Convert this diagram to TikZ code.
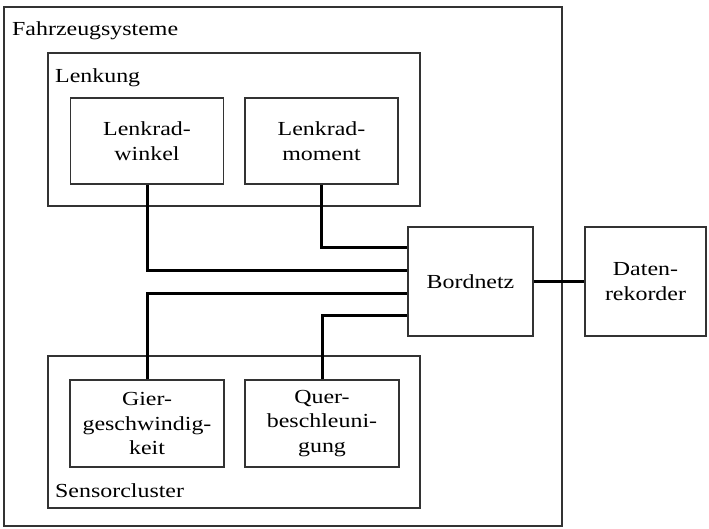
\documentclass[tikz,border=0pt]{standalone}
\usepackage{fontspec}
\setmainfont{Liberation Serif}[FakeStretch=1.2]
\usepackage{tikz}
\usetikzlibrary{calc}
\definecolor{framec}{HTML}{333333}
\newcommand{\sysbox}[5]{%
  \node[draw=framec, line width=1.4bp, minimum width=#3bp, minimum height=#4bp,
        inner sep=0pt, align=center] (#1) at #2 {#5};
}

\begin{document}
\begin{tikzpicture}[x=1bp, y=-1bp, font=\fontsize{20}{25}\selectfont,
          bus/.style={black, line width=3bp},
          lbl/.style={anchor=base west, inner sep=0pt}]
        \useasboundingbox (0,0) rectangle (709,529);
        % groups
        \sysbox{fzg}{(283,266.5)}{558}{519}{}
        \sysbox{lenk}{(234,129.5)}{372}{153}{}
        \sysbox{sc}{(234,432)}{372}{152}{}
        \node[lbl] (fzgl) at (12,35.5) {Fahrzeugsysteme};
        \node[lbl] (lenkl) at (55,83) {Lenkung};
        \node[lbl] (scl) at (55,497) {Sensorcluster};
        % components
        \sysbox{lw}{(147,141)}{153}{86}{Lenkrad-\\winkel}
        \sysbox{lm}{(321.5,141)}{153}{86}{Lenkrad-\\moment}
        \sysbox{gg}{(147,423.5)}{154}{87}{Gier-\\geschwindig-\\keit}
        \sysbox{qb}{(322,423.5)}{154}{87}{Quer-\\beschleuni-\\gung}
        \sysbox{bn}{(470.5,281.5)}{125}{109}{Bordnetz}
        \sysbox{dr}{(645.5,281.5)}{121}{109}{Daten-\\rekorder}
        % bus lines
        \coordinate (b1) at ($(bn.west)+(0,-33.5)$);
        \coordinate (b2) at ($(bn.west)+(0,-11.5)$);
        \coordinate (b3) at ($(bn.west)+(0,11.5)$);
        \coordinate (b4) at ($(bn.west)+(0,33.5)$);
        \draw[bus] (lm.south) |- (b1);
        \draw[bus] (lw.south) |- (b2);
        \draw[bus] (gg.north) |- (b3);
        \draw[bus] (qb.north) |- (b4);
        \draw[bus] (bn.east) -- (dr.west);
      \end{tikzpicture}
\end{document}
